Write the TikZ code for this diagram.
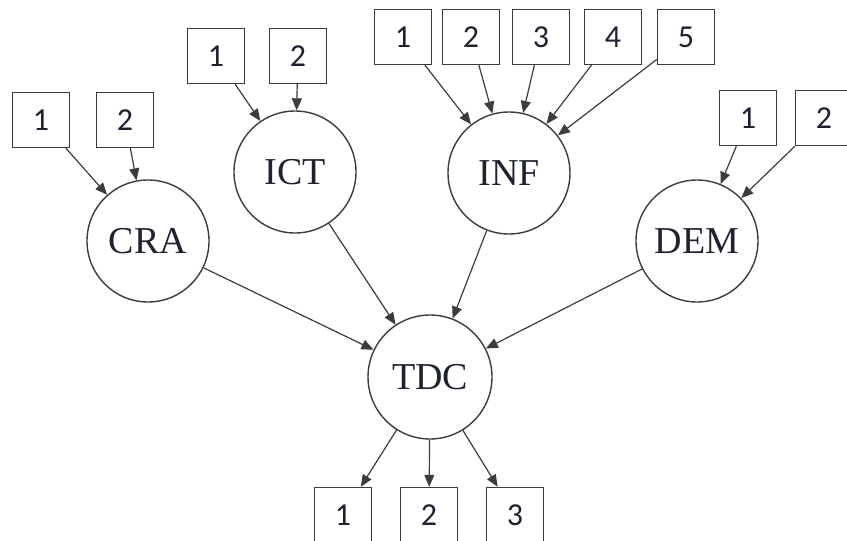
\documentclass[tikz,border=0pt]{standalone}
\usepackage{fontspec}
\setmainfont{Liberation Serif}
\newfontfamily\numfont{Carlito}
\usetikzlibrary{arrows.meta}
\definecolor{linec}{HTML}{3C3C3C}
\definecolor{textc}{HTML}{1E2230}
\tikzset{
  latent/.style={circle, draw=linec, line width=1.4pt, minimum size=122pt, inner sep=0pt, text=textc, font=\fontsize{38}{40}\selectfont},
  ind/.style={rectangle, draw=linec, line width=1.4pt, minimum width=57pt, minimum height=55pt, inner sep=0pt, text=textc, font=\numfont\fontsize{32}{34}\selectfont},
  arr/.style={draw=linec, line width=1.2pt, -{Triangle[length=12pt,width=10pt]}}
}
\begin{document}
\begin{tikzpicture}[x=1pt,y=-1pt]
\useasboundingbox (0,0) rectangle (847,541);
\begin{scope}
\clip (0,0) rectangle (847,541);
% latent nodes
\node[latent] (cra) at (148,241) {CRA};
\node[latent] (ict) at (295,172) {ICT};
\node[latent] (inf) at (509,173) {INF};
\node[latent] (dem) at (697,241) {DEM};
\node[latent, minimum size=124pt] (tdc) at (430,377) {TDC};
% indicators
\node[ind] (c1) at (41,120) {1};
\node[ind] (c2) at (125,120) {2};
\node[ind] (i1) at (216,56) {1};
\node[ind] (i2) at (298,56) {2};
\node[ind] (n1) at (403,37) {1};
\node[ind] (n2) at (471,37) {2};
\node[ind] (n3) at (541,37) {3};
\node[ind] (n4) at (613,37) {4};
\node[ind] (n5) at (686,37) {5};
\node[ind] (d1) at (748,118) {1};
\node[ind] (d2) at (824,118) {2};
\node[ind] (t1) at (343,515) {1};
\node[ind] (t2) at (429,515) {2};
\node[ind] (t3) at (515,515) {3};
% connectors
\foreach \s/\t in {c1/cra,c2/cra,i1/ict,i2/ict,n1/inf,n2/inf,n3/inf,n4/inf,n5/inf,d1/dem,d2/dem,cra/tdc,ict/tdc,inf/tdc,dem/tdc,tdc/t1,tdc/t2,tdc/t3}
  \draw[arr] (\s) -- (\t);
\end{scope}
\end{tikzpicture}
\end{document}
